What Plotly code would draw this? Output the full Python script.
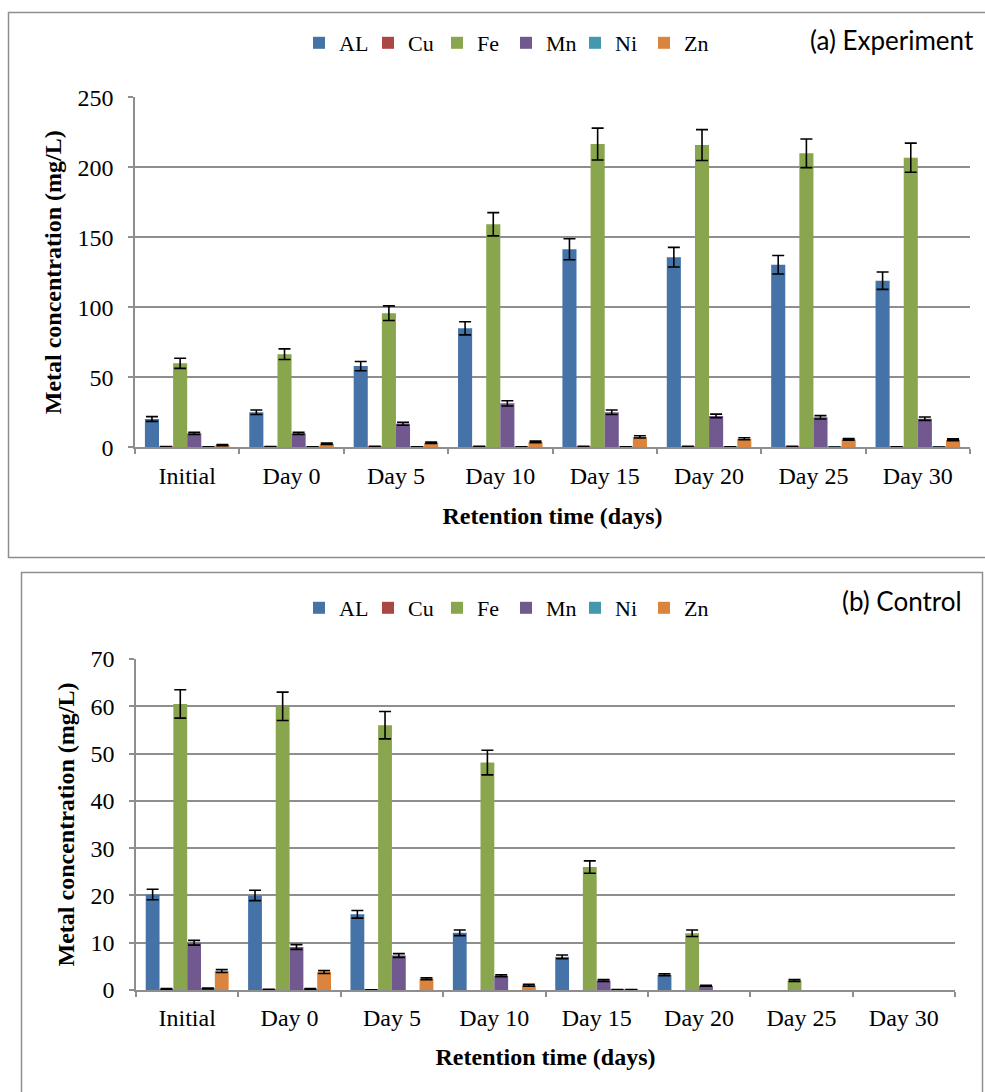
import plotly.graph_objects as go

W, H = 985, 1092

categories = ["Initial", "Day 0", "Day 5", "Day 10", "Day 15", "Day 20", "Day 25", "Day 30"]
metals = ["AL", "Cu", "Fe", "Mn", "Ni", "Zn"]
colors = ["#4572A7", "#AA4643", "#89A54E", "#71588F", "#4198AF", "#DB843D"]

# (a) Experiment
exp_AL = [20.2, 25.0, 58.0, 85.0, 141.5, 135.8, 130.4, 119.0]
exp_AL_err = [1.7, 1.6, 3.3, 4.7, 7.5, 7.0, 6.6, 6.2]
exp_Cu = [0.3, 0.4, 0.5, 0.6, 0.6, 0.5, 0.5, 0.2]
exp_Cu_err = [0.2, 0.2, 0.2, 0.2, 0.2, 0.2, 0.2, 0.1]
exp_Fe = [60.0, 66.5, 95.8, 159.3, 216.6, 215.9, 210.0, 206.9]
exp_Fe_err = [3.6, 3.8, 5.2, 8.3, 11.4, 11.0, 10.2, 10.4]
exp_Mn = [10.0, 10.0, 16.8, 31.4, 25.0, 22.4, 21.4, 20.4]
exp_Mn_err = [0.8, 0.8, 1.0, 1.9, 1.6, 1.3, 1.2, 1.2]
exp_Ni = [0.3, 0.3, 0.3, 0.3, 0.3, 0.3, 0.2, 0.1]
exp_Ni_err = [0.05, 0.05, 0.05, 0.05, 0.05, 0.05, 0.05, 0.05]
exp_Zn = [1.6, 2.6, 3.3, 3.8, 7.4, 6.1, 5.6, 5.4]
exp_Zn_err = [0.4, 0.5, 0.5, 0.6, 0.8, 0.7, 0.6, 0.6]

# (b) Control
ctl_AL = [20.2, 20.0, 16.0, 12.1, 7.0, 3.2, 0, 0]
ctl_AL_err = [1.1, 1.1, 0.8, 0.6, 0.4, 0.2, 0, 0]
ctl_Cu = [0.2, 0.1, 0.05, 0, 0, 0, 0, 0]
ctl_Cu_err = [0.1, 0.05, 0, 0, 0, 0, 0, 0]
ctl_Fe = [60.5, 60.0, 56.0, 48.1, 26.0, 12.0, 2.0, 0]
ctl_Fe_err = [3.0, 3.0, 2.9, 2.6, 1.3, 0.7, 0.2, 0]
ctl_Mn = [10.0, 9.1, 7.3, 3.0, 2.0, 0.9, 0, 0]
ctl_Mn_err = [0.5, 0.5, 0.4, 0.2, 0.2, 0.1, 0, 0]
ctl_Ni = [0.3, 0.2, 0, 0, 0.1, 0, 0, 0]
ctl_Ni_err = [0.1, 0.1, 0, 0, 0, 0, 0, 0]
ctl_Zn = [4.0, 3.8, 2.4, 1.0, 0.1, 0, 0, 0]
ctl_Zn_err = [0.3, 0.3, 0.2, 0.2, 0, 0, 0, 0]

exp_vals = [exp_AL, exp_Cu, exp_Fe, exp_Mn, exp_Ni, exp_Zn]
exp_errs = [exp_AL_err, exp_Cu_err, exp_Fe_err, exp_Mn_err, exp_Ni_err, exp_Zn_err]
ctl_vals = [ctl_AL, ctl_Cu, ctl_Fe, ctl_Mn, ctl_Ni, ctl_Zn]
ctl_errs = [ctl_AL_err, ctl_Cu_err, ctl_Fe_err, ctl_Mn_err, ctl_Ni_err, ctl_Zn_err]

SERIF = "Liberation Serif"
SANS = "Lato"
GRID = "#8E8E8E"


def shown(vals):
    # values of 0 (not detected) are left undrawn, so no error cap sits on the axis
    return [None if v == 0 else v for v in vals]


fig = go.Figure()

for name, col, v, e in zip(metals, colors, exp_vals, exp_errs):
    fig.add_trace(go.Bar(
        x=categories, y=v, name=name, marker=dict(color=col, line=dict(width=0)),
        error_y=dict(type="data", array=e, visible=True, color="black", thickness=1.6, width=6),
        xaxis="x", yaxis="y", legend="legend",
    ))
for name, col, v, e in zip(metals, colors, ctl_vals, ctl_errs):
    fig.add_trace(go.Bar(
        x=categories, y=shown(v), name=name, marker=dict(color=col, line=dict(width=0)),
        error_y=dict(type="data", array=e, visible=True, color="black", thickness=1.6, width=6),
        xaxis="x2", yaxis="y2", legend="legend2",
    ))

def px_x(p):
    return p / W

def px_y(p):
    return (H - p) / H

axis_common = dict(
    showline=True, linecolor=GRID, linewidth=1.5,
    ticks="outside", ticklen=5, tickcolor=GRID, tickwidth=1.5,
    tickfont=dict(family=SERIF, size=24, color="black"),
)

xtitle = dict(text="<b>Retention time (days)</b>", font=dict(family=SERIF, size=24), standoff=19)
ytitle = dict(text="<b>Metal concentration (mg/L)</b>", font=dict(family=SERIF, size=24), standoff=9)

fig.update_layout(
    width=W, height=H,
    margin=dict(l=0, r=0, t=0, b=0, pad=0, autoexpand=False),
    paper_bgcolor="white", plot_bgcolor="white",
    barmode="group", bargap=0.19, bargroupgap=0,
    font=dict(family=SERIF, color="black"),
    xaxis=dict(
        domain=[px_x(135), px_x(970)], anchor="y", type="category",
        tickson="boundaries", showgrid=False, ticklabelstandoff=6,
        title=xtitle, **axis_common,
    ),
    yaxis=dict(
        domain=[px_y(447.3), px_y(97.3)], anchor="x", range=[0, 250], dtick=50,
        showgrid=True, gridcolor=GRID, gridwidth=1.5, zeroline=False, ticklabelstandoff=10,
        title=ytitle, **axis_common,
    ),
    xaxis2=dict(
        domain=[px_x(136), px_x(955)], anchor="y2", type="category",
        tickson="boundaries", showgrid=False, ticklabelstandoff=5,
        title=xtitle, **axis_common,
    ),
    yaxis2=dict(
        domain=[px_y(990), px_y(659)], anchor="x2", range=[0, 70], dtick=10,
        showgrid=True, gridcolor=GRID, gridwidth=1.5, zeroline=False, ticklabelstandoff=10,
        title=ytitle, **axis_common,
    ),
    legend=dict(
        orientation="h", x=px_x(506), y=px_y(43), xanchor="center", yanchor="middle",
        font=dict(family=SERIF, size=22), itemwidth=30, entrywidth=24, bgcolor="rgba(0,0,0,0)",
    ),
    legend2=dict(
        orientation="h", x=px_x(506), y=px_y(608), xanchor="center", yanchor="middle",
        font=dict(family=SERIF, size=22), itemwidth=30, entrywidth=24, bgcolor="rgba(0,0,0,0)",
    ),
    showlegend=True,
)

fig.add_shape(type="rect", xref="paper", yref="paper",
              x0=px_x(8.5), x1=px_x(992), y0=px_y(557.5), y1=px_y(12.5),
              line=dict(color=GRID, width=1.5), layer="below")
fig.add_shape(type="rect", xref="paper", yref="paper",
              x0=px_x(21.5), x1=px_x(982.5), y0=px_y(1100), y1=px_y(572.5),
              line=dict(color=GRID, width=1.5), layer="below")

fig.add_annotation(text="(a) Experiment", xref="paper", yref="paper",
                   x=px_x(976), y=px_y(40), xanchor="right", yanchor="middle",
                   showarrow=False, font=dict(family=SANS, size=26, color="black"))
fig.add_annotation(text="(b) Control", xref="paper", yref="paper",
                   x=px_x(964), y=px_y(601), xanchor="right", yanchor="middle",
                   showarrow=False, font=dict(family=SANS, size=26, color="black"))

fig.write_html("out.html", config={"displayModeBar": False},
               post_script="document.body.style.margin='0';document.body.style.overflow='hidden';")
